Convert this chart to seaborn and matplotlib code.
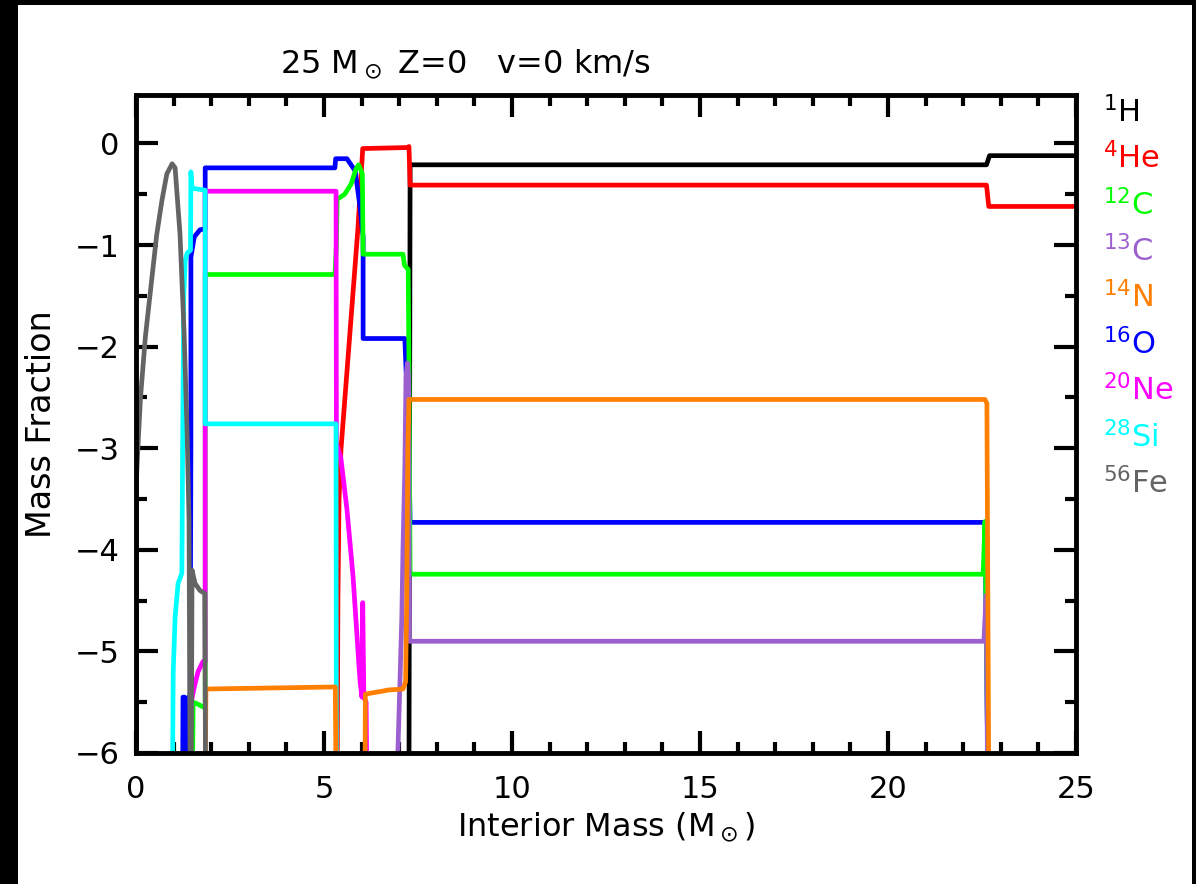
import numpy as np
import pandas as pd
import matplotlib
matplotlib.use("Agg")
import matplotlib.pyplot as plt
from matplotlib.patches import Rectangle
from matplotlib.ticker import MultipleLocator
import seaborn as sns

# log10 mass fraction profiles vs interior mass (Msun); -6.3 marks values below the plotted floor
h1_m = [0.0, 0.01, 7.26, 7.29, 22.62, 22.70, 25.0]
h1_x = [-3.0, -6.3, -6.3, -0.21, -0.21, -0.12, -0.12]

he4_m = [5.35, 5.37, 5.40, 5.45, 5.90, 6.03, 7.22, 7.26, 7.29, 22.62, 22.68, 25.0]
he4_x = [-6.3, -4.5, -3.5, -3.02, -0.85, -0.05, -0.04, -0.03, -0.41, -0.41, -0.62, -0.62]

c12_m = [1.50, 1.52, 1.65, 1.80, 1.84, 1.84, 5.29, 5.33, 5.35, 5.55, 5.72, 5.85, 5.92,
         6.02, 6.04, 7.10, 7.14, 7.24, 7.26, 7.29, 22.53, 22.58, 22.66]
c12_x = [-6.3, -5.50, -5.52, -5.55, -5.55, -1.29, -1.29, -1.0, -0.55, -0.50, -0.40, -0.25, -0.21,
         -0.30, -1.09, -1.09, -1.20, -1.24, -2.2, -4.24, -4.24, -3.72, -6.3]

c13_m = [6.94, 7.02, 7.07, 7.10, 7.15, 7.18, 7.22, 7.25, 7.27, 22.55, 22.61, 22.65]
c13_x = [-6.3, -5.3, -4.66, -4.0, -3.2, -2.3, -2.16, -2.3, -4.90, -4.90, -4.45, -6.3]

n14_m = [1.84, 1.86, 5.30, 5.32, 6.09, 6.10, 6.57, 6.70, 7.10, 7.17, 7.20, 7.23, 7.26,
         22.58, 22.63, 22.68]
n14_x = [-6.3, -5.37, -5.35, -6.3, -6.3, -5.42, -5.39, -5.38, -5.37, -5.30, -4.5, -3.0, -2.52,
         -2.52, -2.56, -6.3]

o16_m = [1.24, 1.25, 1.29, 1.31, 1.38, 1.40, 1.44, 1.46, 1.46, 1.55, 1.70, 1.84, 1.84,
         5.29, 5.31, 5.61, 5.83, 5.96, 6.04, 6.04, 7.15, 7.19, 7.22, 7.29, 22.58, 22.66]
o16_x = [-6.3, -5.45, -5.45, -6.3, -6.3, -5.45, -5.45, -3.0, -1.12, -0.92, -0.85, -0.84, -0.24,
         -0.24, -0.15, -0.15, -0.27, -0.63, -0.92, -1.92, -1.92, -2.3, -2.3, -3.73, -3.73, -6.3]

ne20_m = [1.44, 1.46, 1.48, 1.55, 1.65, 1.78, 1.84, 1.84, 5.32, 5.33, 5.45, 5.61, 5.77,
          5.96, 6.01, 6.03, 6.06, 6.12, 6.14]
ne20_x = [-6.3, -5.35, -5.48, -5.35, -5.2, -5.1, -5.1, -0.47, -0.47, -2.95, -3.1, -3.6, -4.25,
          -5.3, -5.45, -4.52, -5.45, -5.5, -6.3]

si28_m = [0.97, 0.99, 1.04, 1.12, 1.22, 1.24, 1.27, 1.31, 1.36, 1.45, 1.46, 1.49, 1.84,
          1.84, 5.32, 5.33]
si28_x = [-6.3, -5.2, -4.66, -4.33, -4.23, -3.0, -1.5, -1.15, -1.08, -1.05, -0.28, -0.44, -0.46,
          -2.76, -2.76, -6.3]

fe56_m = [0.0, 0.0, 0.05, 0.12, 0.25, 0.40, 0.55, 0.69, 0.82, 0.96, 1.04, 1.17, 1.28, 1.36,
          1.41, 1.44, 1.47, 1.49, 1.57, 1.70, 1.83, 1.85]
fe56_x = [-6.3, -3.4, -3.0, -2.5, -1.9, -1.4, -0.9, -0.56, -0.30, -0.20, -0.24, -0.89, -1.87,
          -2.85, -3.7, -6.3, -6.3, -4.2, -4.33, -4.40, -4.43, -6.3]

species = ["$^{1}$H", "$^{4}$He", "$^{12}$C", "$^{13}$C", "$^{14}$N",
           "$^{16}$O", "$^{20}$Ne", "$^{28}$Si", "$^{56}$Fe"]
colors = ["#000000", "#ff0000", "#00ff00", "#9b5fd0", "#ff7f00",
          "#0000ff", "#ff00ff", "#00ffff", "#646464"]
profiles = [(h1_m, h1_x), (he4_m, he4_x), (c12_m, c12_x), (c13_m, c13_x), (n14_m, n14_x),
            (o16_m, o16_x), (ne20_m, ne20_x), (si28_m, si28_x), (fe56_m, fe56_x)]
# stacking order of the curves (index into species)
draw_order = [0, 1, 5, 2, 6, 7, 3, 4, 8]

sns.set_style("ticks")
plt.rcParams["font.family"] = ["DejaVu Sans"]
plt.rcParams["axes.unicode_minus"] = True
plt.rcParams["text.color"] = "black"
plt.rcParams["axes.labelcolor"] = "black"

fig = plt.figure(figsize=(11.96, 8.84), dpi=100)
fig.patch.set_facecolor("black")
fig.add_artist(Rectangle((18 / 1196, 0), (1192 - 18) / 1196, 1 - 5 / 884,
                         transform=fig.transFigure, facecolor="white",
                         edgecolor="none", zorder=0))

ax = fig.add_axes([136 / 1196, 1 - 753 / 884, (1076 - 136) / 1196, (753 - 95) / 884])
ax.set_facecolor("white")

for i in draw_order:
    m, x = profiles[i]
    df = pd.DataFrame({"mass": m, "logx": x})
    sns.lineplot(data=df, x="mass", y="logx", sort=False, estimator=None,
                 color=colors[i], ax=ax)
for line in ax.lines:
    line.set_linewidth(3.4)
    line.set_solid_joinstyle("round")

ax.set_xlim(0, 25)
ax.set_ylim(-6, np.log10(3))
ax.xaxis.set_major_locator(MultipleLocator(5))
ax.xaxis.set_minor_locator(MultipleLocator(1))
ax.yaxis.set_major_locator(MultipleLocator(1))
ax.yaxis.set_minor_locator(MultipleLocator(0.5))
ax.tick_params(which="both", direction="in", top=True, right=True, width=3,
               color="black", labelsize=22, labelcolor="black")
ax.tick_params(which="major", length=16)
ax.tick_params(axis="x", which="major", pad=16)
ax.tick_params(axis="y", which="major", pad=12)
ax.tick_params(which="minor", length=8)
for s in ax.spines.values():
    s.set_linewidth(3.5)
    s.set_color("black")

ax.set_xlabel(r"Interior Mass (M$_\odot$)", fontsize=23, labelpad=4)
ax.set_ylabel("Mass Fraction", fontsize=24, labelpad=12)

fig.text(280 / 1196, 1 - 64 / 884, r"25 M$_\odot$ Z=0   v=0 km/s", fontsize=23,
         ha="left", va="center", color="black")

for i, (lab, col) in enumerate(zip(species, colors)):
    fig.text(1103 / 1196, 1 - (112 + i * 46.4) / 884, lab, fontsize=22,
             color=col, ha="left", va="center")

fig.savefig("out.png", dpi=100, facecolor=fig.get_facecolor())
